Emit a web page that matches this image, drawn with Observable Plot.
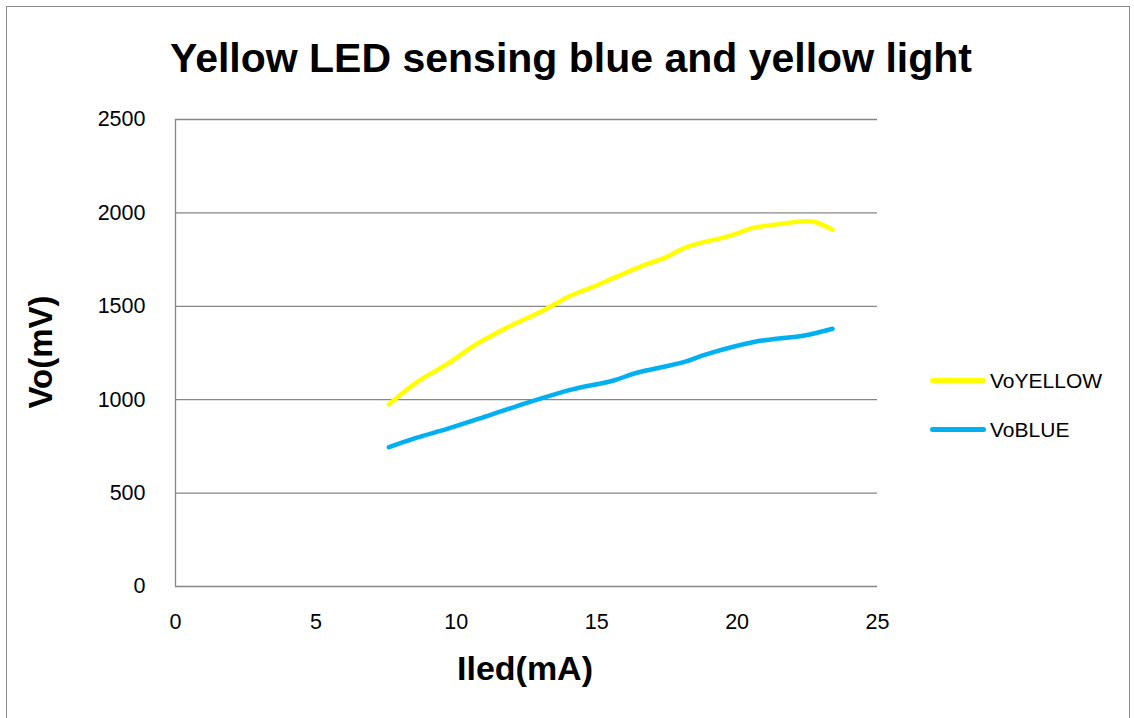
<!DOCTYPE html>
<html><head><meta charset="utf-8">
<script src="https://cdn.jsdelivr.net/npm/d3@7"></script>
<script src="https://cdn.jsdelivr.net/npm/@observablehq/plot@0.6"></script>
<style>
body{margin:0;background:#fff;}
#chart{position:relative;width:1134px;height:718px;overflow:hidden;font-family:"Liberation Sans",Arial,sans-serif;color:#000;}
#frame{position:absolute;left:6px;top:6px;width:1124px;height:740px;border:1px solid #8a8a8a;box-sizing:border-box;}
#title{position:absolute;left:0;width:1142px;top:38px;line-height:1;text-align:center;font-weight:bold;font-size:41px;white-space:nowrap;}
#ylab{position:absolute;left:40px;top:352px;line-height:1;transform:translate(-50%,-50%) rotate(-90deg);font-weight:bold;font-size:33px;white-space:nowrap;}
#xlab{position:absolute;left:525px;top:668px;line-height:1;transform:translate(-50%,-50%);font-weight:bold;font-size:34px;white-space:nowrap;}
#plot{position:absolute;left:0;top:0;}
.leg{position:absolute;left:930px;font-size:21px;line-height:1;display:flex;align-items:center;}
.leg span.sw{display:inline-block;width:56px;height:5px;border-radius:3px;margin-right:4px;}
</style></head>
<body>
<div id="chart">
  <div id="frame"></div>
  <div id="plot"></div>
  <div id="title"></div>
  <div id="ylab"></div>
  <div id="xlab"></div>
  <div id="legend"></div>
</div>
<script>
const titleText = "Yellow LED sensing blue and yellow light";
const xLabel = "Iled(mA)";
const yLabel = "Vo(mV)";
const seriesNames = ["VoYELLOW", "VoBLUE"];
const seriesColors = ["#FFFF00", "#00B0F0"];
const xTicks = [0, 5, 10, 15, 20, 25];
const yTicks = [0, 500, 1000, 1500, 2000, 2500];

const iledYellow = [7.6, 8.6, 9.7, 10.7, 11.9, 13.1, 14.1, 14.8, 15.9, 16.9, 17.4, 18.2, 19.8, 20.6, 21.5, 22.4, 22.8, 23.4];
const voYellow   = [975, 1094, 1193, 1296, 1393, 1478, 1559, 1600, 1671, 1732, 1758, 1817, 1880, 1921, 1940, 1955, 1950, 1910];
const iledBlue = [7.6, 8.6, 9.7, 11.2, 12.6, 14.1, 15.6, 16.4, 18.1, 18.9, 20.6, 21.5, 22.4, 23.4];
const voBlue   = [746, 797, 845, 918, 987, 1054, 1103, 1143, 1201, 1243, 1309, 1328, 1344, 1380];

const rows = [
  ...iledYellow.map((x, i) => ({x, y: voYellow[i], s: seriesNames[0]})),
  ...iledBlue.map((x, i) => ({x, y: voBlue[i], s: seriesNames[1]}))
];

document.getElementById("title").textContent = titleText;
document.getElementById("xlab").textContent = xLabel;
document.getElementById("ylab").textContent = yLabel;

const legend = document.getElementById("legend");
seriesNames.forEach((n, i) => {
  const d = document.createElement("div");
  d.className = "leg";
  d.style.top = (370 + i * 49) + "px";
  d.innerHTML = `<span class="sw" style="background:${seriesColors[i]}"></span><span>${n}</span>`;
  legend.appendChild(d);
});

const plot = Plot.plot({
  width: 1134,
  height: 718,
  marginLeft: 175,
  marginRight: 257,
  marginTop: 119,
  marginBottom: 132,
  style: {fontFamily: "Liberation Sans, Arial, sans-serif", background: "transparent", color: "#000"},
  x: {domain: [0, 25]},
  y: {domain: [0, 2500]},
  color: {domain: seriesNames, range: seriesColors},
  marks: [
    Plot.gridY(yTicks, {stroke: "#868686", strokeOpacity: 1, strokeWidth: 1.3}),
    Plot.ruleX([0], {stroke: "#868686", strokeWidth: 1.3}),
    Plot.axisY(yTicks, {tickSize: 0, tickPadding: 30, fontSize: 21.5, tickFormat: d => String(d), label: null}),
    Plot.axisX(xTicks, {tickSize: 0, tickPadding: 27, fontSize: 21.5, tickFormat: d => String(d), label: null}),
    Plot.line(rows, {x: "x", y: "y", z: "s", stroke: "s", strokeWidth: 4.5, curve: "catmull-rom", strokeLinecap: "round"})
  ]
});
document.getElementById("plot").appendChild(plot);
</script>
</body></html>
